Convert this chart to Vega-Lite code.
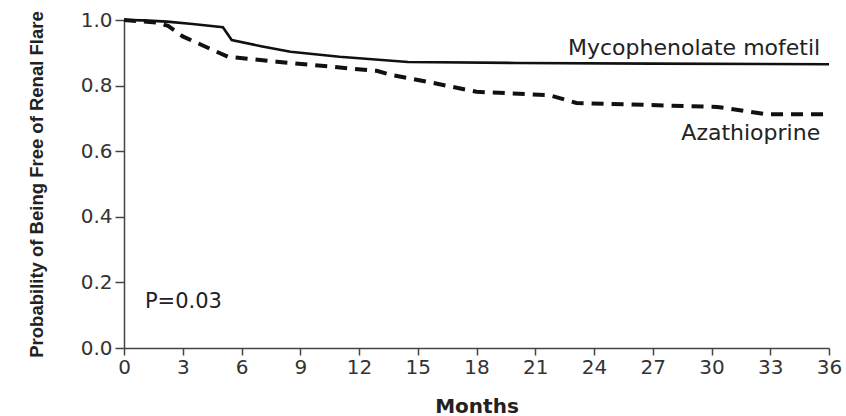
{
  "$schema": "https://vega.github.io/schema/vega-lite/v6.json",
  "autosize": {"type": "none"},
  "padding": {"left": 124, "top": 20, "right": 17, "bottom": 68},
  "width": 705,
  "height": 328,
  "background": "white",
  "config": {"view": {"stroke": null}},
  "datasets": {
    "curves": [
      {"series": "Mycophenolate mofetil", "month": 0, "prob": 1.0},
      {"series": "Mycophenolate mofetil", "month": 1, "prob": 0.999},
      {"series": "Mycophenolate mofetil", "month": 2.2, "prob": 0.995},
      {"series": "Mycophenolate mofetil", "month": 3.5, "prob": 0.988},
      {"series": "Mycophenolate mofetil", "month": 5.05, "prob": 0.978},
      {"series": "Mycophenolate mofetil", "month": 5.5, "prob": 0.939},
      {"series": "Mycophenolate mofetil", "month": 7, "prob": 0.92},
      {"series": "Mycophenolate mofetil", "month": 8.5, "prob": 0.903},
      {"series": "Mycophenolate mofetil", "month": 11, "prob": 0.888},
      {"series": "Mycophenolate mofetil", "month": 14.5, "prob": 0.872},
      {"series": "Mycophenolate mofetil", "month": 20, "prob": 0.869},
      {"series": "Mycophenolate mofetil", "month": 27, "prob": 0.867},
      {"series": "Mycophenolate mofetil", "month": 36, "prob": 0.865},
      {"series": "Azathioprine", "month": 0, "prob": 1.0},
      {"series": "Azathioprine", "month": 1.7, "prob": 0.992},
      {"series": "Azathioprine", "month": 2.25, "prob": 0.982},
      {"series": "Azathioprine", "month": 3, "prob": 0.95},
      {"series": "Azathioprine", "month": 5.3, "prob": 0.888},
      {"series": "Azathioprine", "month": 7.8, "prob": 0.873},
      {"series": "Azathioprine", "month": 10.5, "prob": 0.858},
      {"series": "Azathioprine", "month": 12.9, "prob": 0.845},
      {"series": "Azathioprine", "month": 13.7, "prob": 0.832},
      {"series": "Azathioprine", "month": 15.8, "prob": 0.808},
      {"series": "Azathioprine", "month": 18, "prob": 0.781},
      {"series": "Azathioprine", "month": 21.7, "prob": 0.771},
      {"series": "Azathioprine", "month": 22.6, "prob": 0.756},
      {"series": "Azathioprine", "month": 23.1, "prob": 0.747},
      {"series": "Azathioprine", "month": 30.3, "prob": 0.735},
      {"series": "Azathioprine", "month": 32.0, "prob": 0.72},
      {"series": "Azathioprine", "month": 32.8, "prob": 0.713},
      {"series": "Azathioprine", "month": 36, "prob": 0.713}
    ],
    "seriesLabels": [
      {"label": "Mycophenolate mofetil", "month": 35.55, "prob": 0.915},
      {"label": "Azathioprine", "month": 35.55, "prob": 0.655}
    ],
    "pLabel": [
      {"label": "P=0.03", "month": 1.07, "prob": 0.14}
    ]
  },
  "layer": [
    {
      "data": {"name": "curves"},
      "transform": [{"filter": "datum.series === 'Mycophenolate mofetil'"}],
      "mark": {"type": "line", "color": "#111111", "strokeWidth": 2.6},
      "encoding": {
        "x": {
          "field": "month", "type": "quantitative",
          "scale": {"domain": [0, 36], "nice": false, "zero": true},
          "axis": {
            "values": [0, 3, 6, 9, 12, 15, 18, 21, 24, 27, 30, 33, 36],
            "title": "Months",
            "grid": false,
            "domainColor": "#444444", "domainWidth": 1.5,
            "tickColor": "#444444", "tickWidth": 1.5, "tickSize": 7,
            "labelFont": "DejaVu Sans", "labelFontSize": 20, "labelColor": "#333333",
            "labelPadding": 2, "labelFlush": false,
            "titleFont": "DejaVu Sans", "titleFontSize": 20, "titleFontWeight": "bold",
            "titleColor": "#222222", "titlePadding": 19
          }
        },
        "y": {
          "field": "prob", "type": "quantitative",
          "scale": {"domain": [0, 1], "nice": false},
          "axis": {
            "values": [0, 0.2, 0.4, 0.6, 0.8, 1.0],
            "format": ".1f",
            "title": "Probability of Being Free of Renal Flare",
            "grid": false,
            "domainColor": "#444444", "domainWidth": 1.5,
            "tickColor": "#444444", "tickWidth": 1.5, "tickSize": 9,
            "labelFont": "DejaVu Sans", "labelFontSize": 20, "labelColor": "#333333",
            "labelPadding": 3, "labelFlush": false,
            "titleFont": "Liberation Sans", "titleFontSize": 18.5, "titleFontWeight": "bold",
            "titleColor": "#222222", "titlePadding": 34
          }
        }
      }
    },
    {
      "data": {"name": "curves"},
      "transform": [{"filter": "datum.series === 'Azathioprine'"}],
      "mark": {"type": "line", "color": "#111111", "strokeWidth": 4, "strokeDash": [12, 8]},
      "encoding": {
        "x": {"field": "month", "type": "quantitative"},
        "y": {"field": "prob", "type": "quantitative"}
      }
    },
    {
      "data": {"name": "seriesLabels"},
      "mark": {"type": "text", "align": "right", "baseline": "middle", "font": "DejaVu Sans", "fontSize": 22, "color": "#222222"},
      "encoding": {
        "x": {"field": "month", "type": "quantitative"},
        "y": {"field": "prob", "type": "quantitative"},
        "text": {"field": "label"}
      }
    },
    {
      "data": {"name": "pLabel"},
      "mark": {"type": "text", "align": "left", "baseline": "middle", "font": "DejaVu Sans", "fontSize": 21, "color": "#222222"},
      "encoding": {
        "x": {"field": "month", "type": "quantitative"},
        "y": {"field": "prob", "type": "quantitative"},
        "text": {"field": "label"}
      }
    }
  ]
}
